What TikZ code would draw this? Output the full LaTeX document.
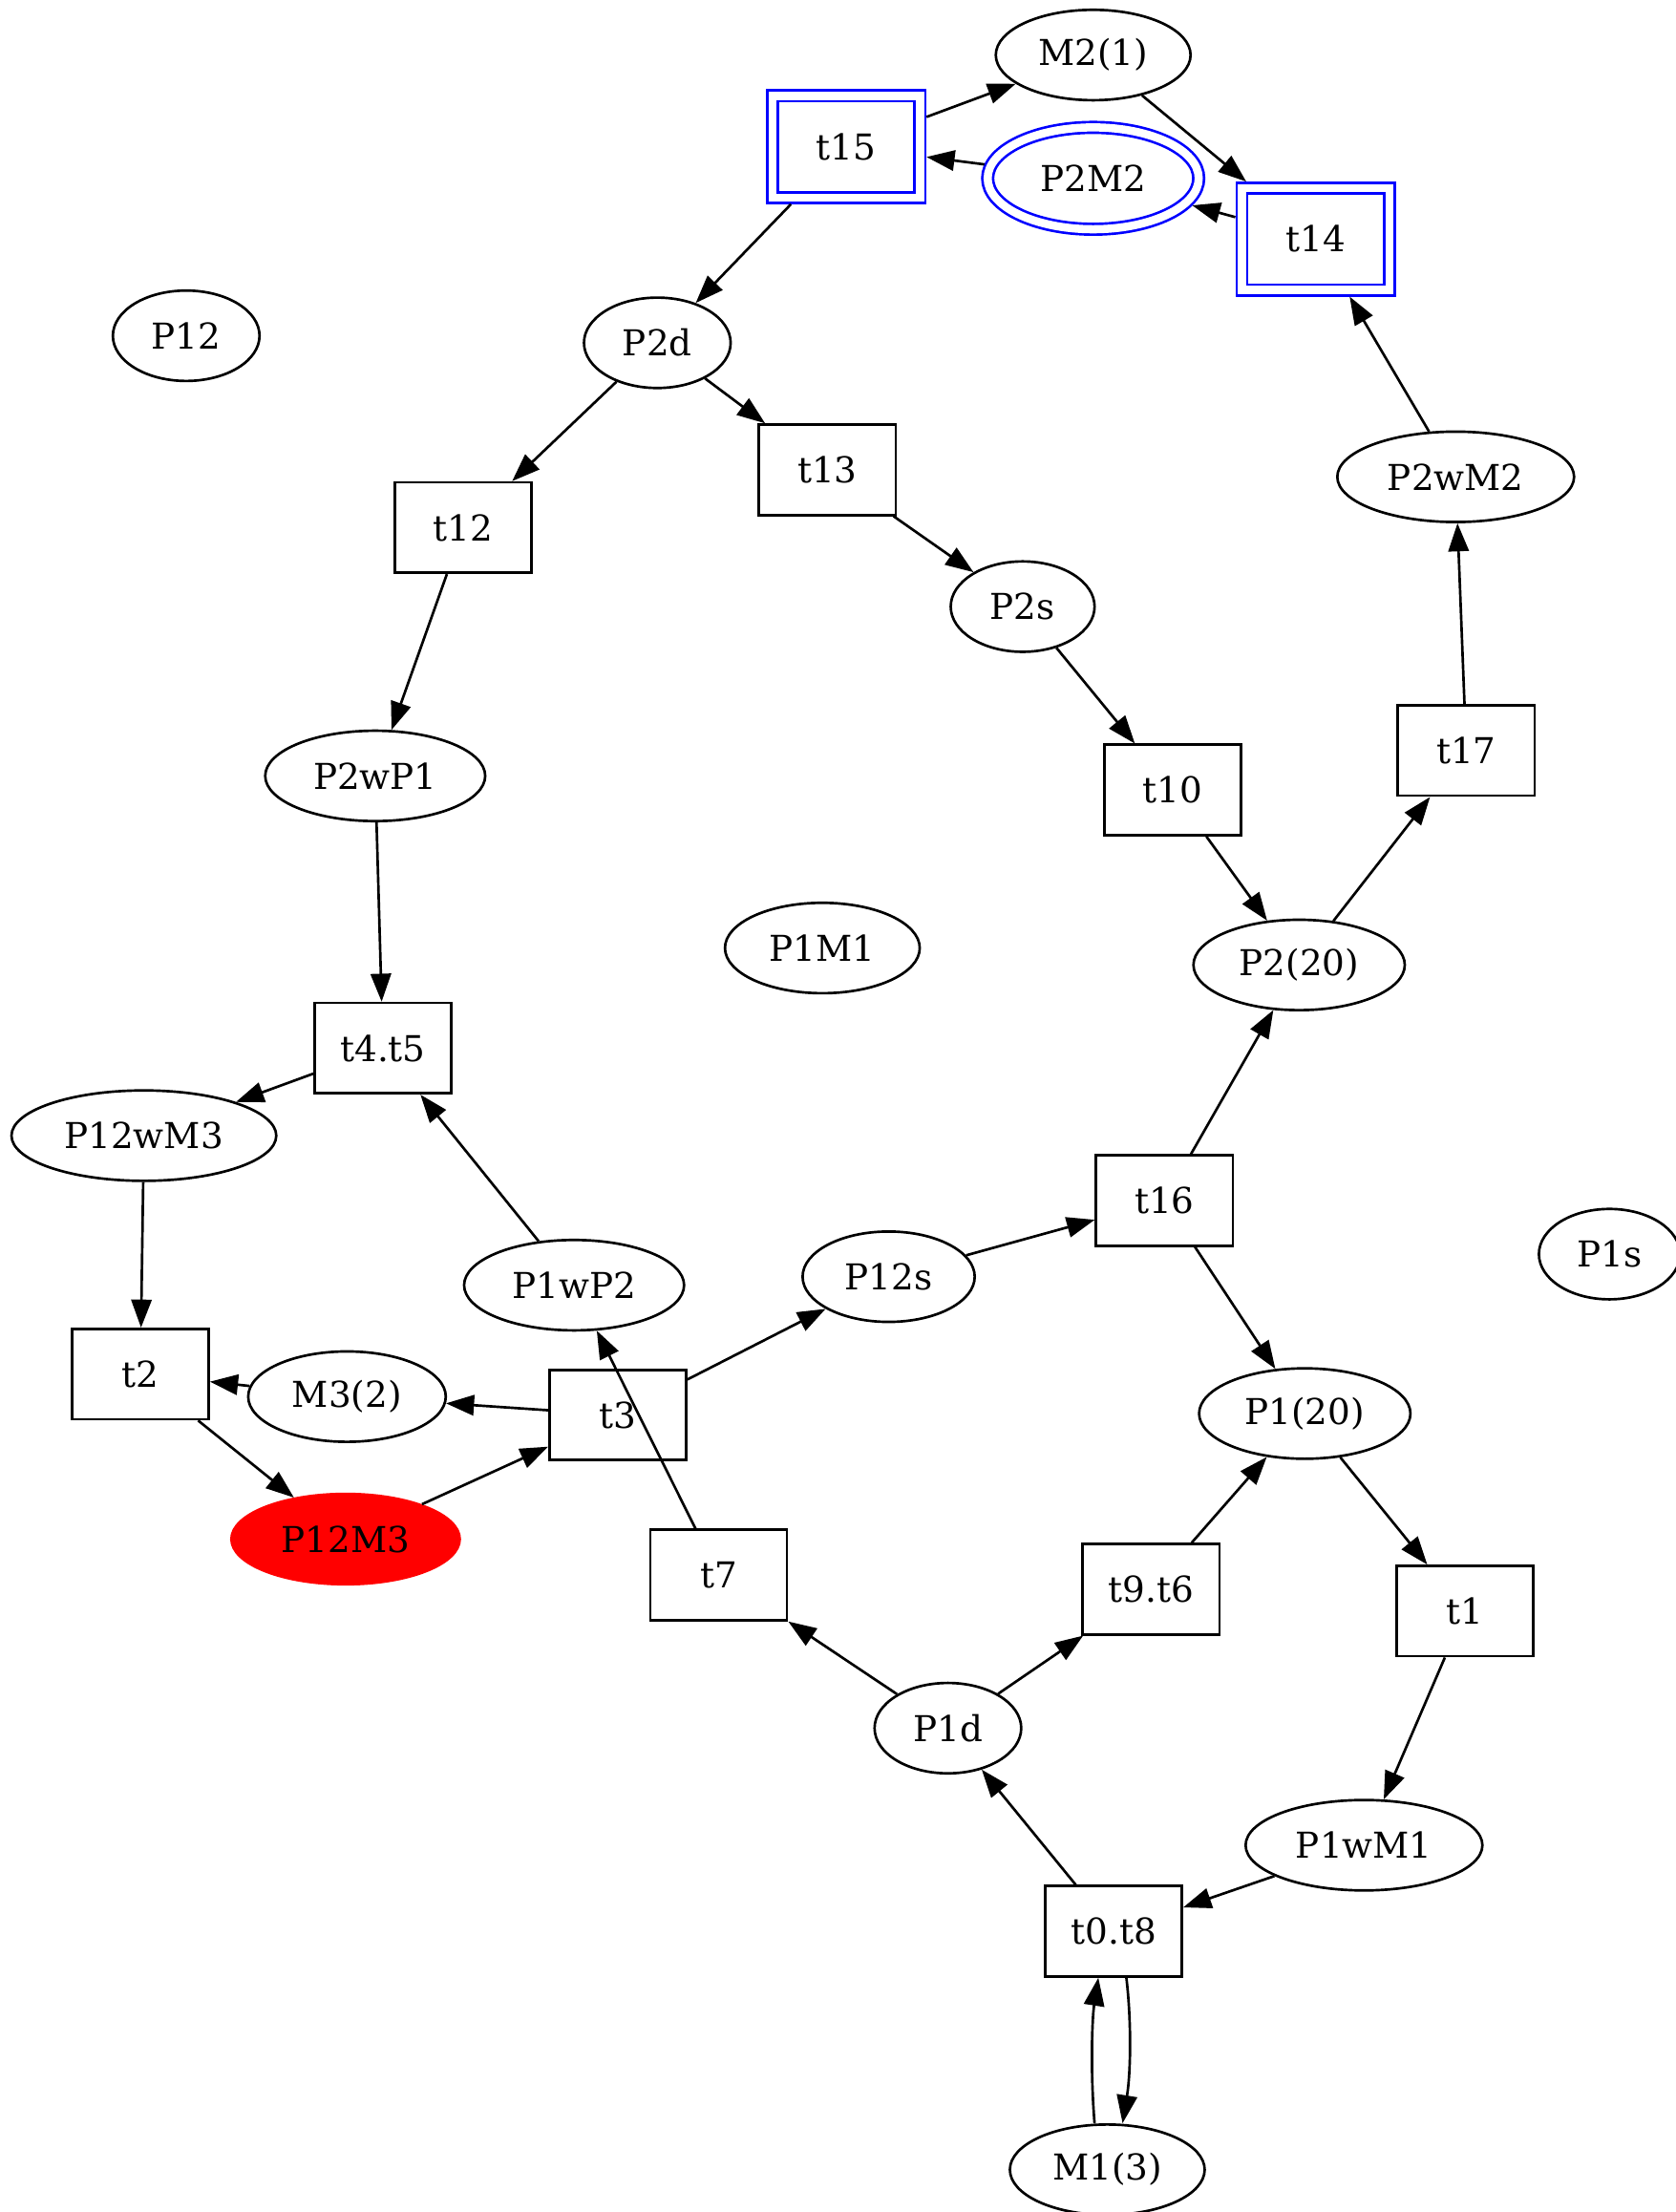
\documentclass[tikz,border=0pt]{standalone}
\usepackage{fontspec}
\setmainfont{DejaVu Serif}
\usetikzlibrary{shapes.geometric,arrows.meta}
\begin{document}
\begin{tikzpicture}[x=0.554pt,y=-0.554pt,
  font=\fontsize{14pt}{17pt}\selectfont,
  line width=1pt,
  pl/.style={ellipse,draw,inner sep=0pt,minimum height=35.5pt},
  tr/.style={rectangle,draw,inner sep=0pt,minimum width=53.7pt,minimum height=35.5pt},
  dbl/.style={draw=blue,double=white,double distance=3.2pt,outer sep=2.6pt},
  arr/.style={-{Triangle[length=11pt,width=8pt]}}]
\useasboundingbox (0,0) rectangle (1188,1568);
% places
\node[pl,minimum width=76.5pt] (m21) at (775,39) {M2(1)};
\node[pl,dbl,minimum width=82.9pt,minimum height=40pt] (p2m2) at (775,126.4) {P2M2};
\node[pl,minimum width=57.6pt] (p12) at (132,238) {P12};
\node[pl,minimum width=57.6pt] (p2d) at (466,243) {P2d};
\node[pl,minimum width=93pt] (p2wm2) at (1032,338) {P2wM2};
\node[pl,minimum width=56.5pt] (p2s) at (725,430) {P2s};
\node[pl,minimum width=86.4pt] (p2wp1) at (266,550) {P2wP1};
\node[pl,minimum width=76.5pt] (p1m1) at (583,672) {P1M1};
\node[pl,minimum width=83pt] (p220) at (921,684) {P2(20)};
\node[pl,minimum width=104pt] (p12wm3) at (102,805) {P12wM3};
\node[pl,minimum width=55.4pt] (p1s) at (1141,889) {P1s};
\node[pl,minimum width=67.6pt] (p12s) at (630,905) {P12s};
\node[pl,minimum width=86.4pt] (p1wp2) at (407,911) {P1wP2};
\node[pl,minimum width=77.6pt] (m32) at (246,990) {M3(2)};
\node[pl,minimum width=83pt] (p120) at (925,1002) {P1(20)};
\node[pl,draw=red,fill=red,minimum width=89.7pt] (p12m3) at (245,1091) {P12M3};
\node[pl,minimum width=57.6pt] (p1d) at (672,1225) {P1d};
\node[pl,minimum width=93pt] (p1wm1) at (967,1308) {P1wM1};
\node[pl,minimum width=76.5pt] (m13) at (785,1538) {M1(3)};
% transitions
\node[tr,dbl,minimum width=57.8pt,minimum height=40pt] (t15) at (600,104) {t15};
\node[tr,dbl,minimum width=58pt,minimum height=40pt] (t14) at (932.8,169.5) {t14};
\node[tr] (t13) at (586.5,333) {t13};
\node[tr] (t12) at (328.5,374) {t12};
\node[tr] (t17) at (1039.5,532) {t17};
\node[tr] (t10) at (831.5,560) {t10};
\node[tr] (t45) at (271.5,743) {t4.t5};
\node[tr] (t16) at (825.5,851) {t16};
\node[tr] (t2) at (99.5,974) {t2};
\node[tr] (t3) at (438,1003) {t3};
\node[tr] (t7) at (509.5,1116.5) {t7};
\node[tr] (t96) at (816,1126.5) {t9.t6};
\node[tr] (t1) at (1038.5,1142) {t1};
\node[tr] (t08) at (789.5,1369) {t0.t8};
% arcs
\draw[arr] (t15) -- (m21);
\draw[arr] (m21) -- (t14);
\draw[arr] (t14) -- (p2m2);
\draw[arr] (p2m2) -- (t15);
\draw[arr] (t15) -- (p2d);
\draw[arr] (p2d) -- (t12);
\draw[arr] (p2d) -- (t13);
\draw[arr] (t13) -- (p2s);
\draw[arr] (p2s) -- (t10);
\draw[arr] (t10) -- (p220);
\draw[arr] (p220) -- (t17);
\draw[arr] (t17) -- (p2wm2);
\draw[arr] (p2wm2) -- (t14);
\draw[arr] (t12) -- (p2wp1);
\draw[arr] (p2wp1) -- (t45);
\draw[arr] (t45) -- (p12wm3);
\draw[arr] (p1wp2) -- (t45);
\draw[arr] (p12wm3) -- (t2);
\draw[arr] (m32) -- (t2);
\draw[arr] (t2) -- (p12m3);
\draw[arr] (p12m3) -- (t3);
\draw[arr] (t3) -- (m32);
\draw[arr] (t3) -- (p12s);
\draw[arr] (p12s) -- (t16);
\draw[arr] (t16) -- (p220);
\draw[arr] (t16) -- (p120);
\draw[arr] (t7) -- (p1wp2);
\draw[arr] (p1d) -- (t7);
\draw[arr] (p1d) -- (t96);
\draw[arr] (t96) -- (p120);
\draw[arr] (p120) -- (t1);
\draw[arr] (t1) -- (p1wm1);
\draw[arr] (p1wm1) -- (t08);
\draw[arr] (t08) -- (p1d);
\draw[arr] ([xshift=-5pt]m13.north) .. controls +(-3,-36) and +(-4.5,29) .. ([xshift=-6pt]t08.south);
\draw[arr] ([xshift=5pt]t08.south) .. controls +(3.5,29) and +(6,-37) .. ([xshift=6pt]m13.north);
\end{tikzpicture}
\end{document}
